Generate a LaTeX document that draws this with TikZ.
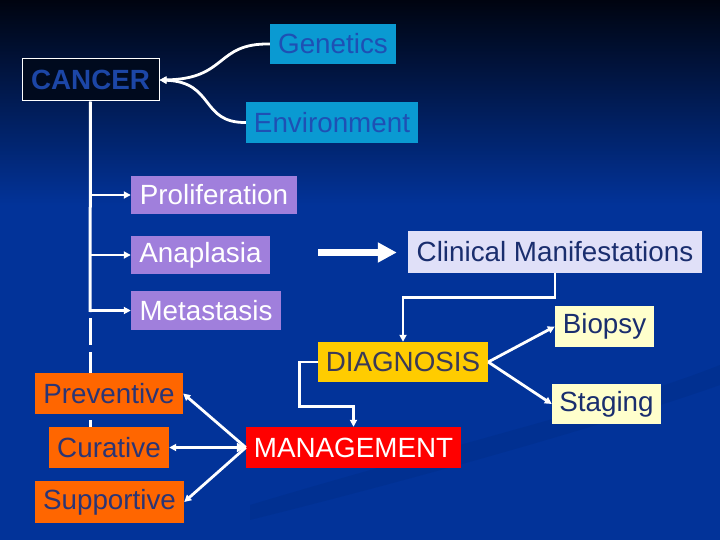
\documentclass[tikz,border=0pt]{standalone}
\usepackage{fontspec}
\setmainfont{Liberation Sans}
\usetikzlibrary{arrows.meta,calc}
\definecolor{bgblue}{HTML}{023399}
\definecolor{bgtop}{HTML}{000410}
\definecolor{bgmid}{HTML}{012268}
\definecolor{cyanbox}{HTML}{0A9AD2}
\definecolor{cyantext}{HTML}{1E50B4}
\definecolor{cancerfill}{HTML}{000A1E}
\definecolor{cancertext}{HTML}{1C46A6}
\definecolor{purplebox}{HTML}{A07FDC}
\definecolor{lavbox}{HTML}{E0E0F8}
\definecolor{navytext}{HTML}{1A2E6E}
\definecolor{diagfill}{HTML}{FFCC00}
\definecolor{diagtext}{HTML}{3A3A58}
\definecolor{paleyellow}{HTML}{FFFFCC}
\definecolor{orangebox}{HTML}{FF6600}
\definecolor{orangetext}{HTML}{2B3575}
\tikzset{
  box/.style={rectangle, inner sep=0pt, font=\fontsize{27.8}{30}\selectfont},
  wline/.style={draw=white, line width=2.8pt, -{Triangle[length=7pt,width=7pt]}},
  bigarrow/.style={draw=white, line width=7pt, -{Triangle[length=19pt,width=19pt]}},
}
\begin{document}
\begin{tikzpicture}[x=1pt,y=-1pt]
\useasboundingbox (0,0) rectangle (720,540);
% background
\fill[bgblue] (0,0) rectangle (720,540);
\shade[top color=bgtop, middle color=bgmid, bottom color=bgblue] (0,0) rectangle (720,205);
\fill[black, opacity=0.05] (250,505) .. controls (450,445) and (620,405) .. (720,365) -- (720,385) .. controls (620,420) and (450,470) .. (250,520) -- cycle;

% nodes
\node[box, fill=cyanbox, text=cyantext, minimum width=126pt, minimum height=40pt] (gen) at (333,44) {Genetics};
\node[box, fill=cancerfill, draw=white, line width=1pt, text=cancertext, minimum width=137pt, minimum height=42pt, font=\fontsize{27.8}{30}\selectfont\bfseries] (can) at (90.5,80) {CANCER};
\node[box, fill=cyanbox, text=cyantext, minimum width=172pt, minimum height=41pt] (env) at (332,122.5) {Environment};

\coordinate (vsolid) at (90,312);
\coordinate (vdashA) at (90,318);
\coordinate (vdashB) at (90,440);
\draw[white, line width=3pt] (can.south) -- (vsolid);
\draw[white, line width=3pt, dash pattern=on 27pt off 7pt] (vdashA) -- (vdashB);

\node[box, fill=purplebox, text=white, minimum width=166pt, minimum height=38pt] (prol) at (214,195) {Proliferation};
\node[box, fill=purplebox, text=white, minimum width=139pt, minimum height=38pt] (ana) at (200.5,255) {Anaplasia};
\node[box, fill=purplebox, text=white, minimum width=150pt, minimum height=39pt] (meta) at (206,310.5) {Metastasis};

\node[box, fill=lavbox, text=navytext, minimum width=294pt, minimum height=42pt] (clin) at (555,252) {Clinical Manifestations};
\node[box, fill=diagfill, text=diagtext, minimum width=170pt, minimum height=40pt] (diag) at (403,362) {DIAGNOSIS};
\node[box, fill=paleyellow, text=navytext, minimum width=99pt, minimum height=41pt] (bio) at (604.5,326.5) {Biopsy};
\node[box, fill=paleyellow, text=navytext, minimum width=109pt, minimum height=40pt] (stag) at (606.5,404) {Staging};
\node[box, fill=red, text=white, minimum width=215pt, minimum height=41pt] (mgmt) at (353.5,447.5) {MANAGEMENT};
\node[box, fill=orangebox, text=orangetext, minimum width=148pt, minimum height=41pt] (prev) at (109,393.5) {Preventive};
\node[box, fill=orangebox, text=orangetext, minimum width=120pt, minimum height=41pt] (cur) at (109,447.5) {Curative};
\node[box, fill=orangebox, text=orangetext, minimum width=149pt, minimum height=42pt] (sup) at (109.5,502) {Supportive};

% connectors
\draw[wline] (gen.west) .. controls (215,43) and (228,79) .. (can.east);
\draw[wline] (env.west) .. controls (200,123) and (215,82) .. (can.east);

\draw[wline] (can.south |- prol.west) -- (prol.west);
\draw[wline] (can.south |- ana.west) -- (ana.west);
\draw[wline] (can.south |- meta.west) -- (meta.west);

\coordinate (thickstart) at (318,252.5);
\draw[bigarrow, shorten >=11pt] (thickstart) -- (clin.west |- thickstart);

\draw[wline] (clin.south) -- ++(0,24) -| (diag.north);
\draw[wline] (diag.east) -- (bio.west);
\draw[wline] (diag.east) -- (stag.west);
\draw[wline] (diag.west) -- ++(-18,0) |- ($(mgmt.north)+(0,-20)$) -- (mgmt.north);

\draw[wline] (mgmt.west) -- (prev.east);
\draw[wline, {Triangle[length=9pt,width=9pt]}-{Triangle[length=7pt,width=7pt]}] (mgmt.west) -- (cur.east);
\draw[wline] (mgmt.west) -- (sup.east);
\end{tikzpicture}
\end{document}
